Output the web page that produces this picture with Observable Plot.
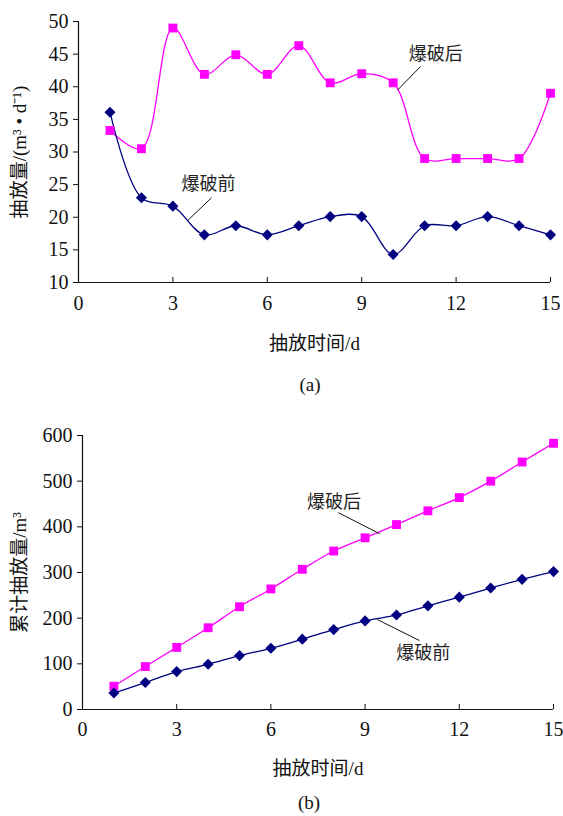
<!DOCTYPE html>
<html>
<head>
<meta charset="utf-8">
<script src="https://cdn.jsdelivr.net/npm/d3@7"></script>
<script src="https://cdn.jsdelivr.net/npm/@observablehq/plot@0.6"></script>
<style>
  body { margin: 0; background: #fff; }
  #wrap { position: relative; width: 563px; height: 816px; font-family: "Liberation Serif", "Noto Sans CJK SC", serif; }
  .panel { position: absolute; left: 0; }
  .cap { position: absolute; width: 100px; text-align: center; font-size: 19px; line-height: 20px; color: #111; }
</style>
</head>
<body>
<div id="wrap">
  <div class="panel" id="panelA" style="top:0"></div>
  <div class="cap" style="top:375px;left:260px">(a)</div>
  <div class="panel" id="panelB" style="top:415px"></div>
  <div class="cap" style="top:793px;left:259px">(b)</div>
</div>
<script>
// Days of extraction
const days = [1, 2, 3, 4, 5, 6, 7, 8, 9, 10, 11, 12, 13, 14, 15];

// Daily extraction rate, m³/d
const rateBefore = [36.1, 23.0, 21.7, 17.3, 18.7, 17.3, 18.7, 20.1, 20.1, 14.3, 18.7, 18.7, 20.1, 18.7, 17.3];
const rateAfter  = [33.3, 30.5, 49.0, 41.9, 44.9, 41.9, 46.3, 40.6, 42.0, 40.6, 29.0, 29.0, 29.0, 29.0, 39.0];

// Cumulative extraction, m³
const cumBefore = [36, 59, 83, 99, 118, 134, 154, 175, 194, 207, 227, 246, 266, 285, 302];
const cumAfter  = [51, 94, 136, 179, 225, 264, 307, 347, 376, 405, 435, 464, 500, 542, 583];

// Series names and axis ticks
const nameBefore = "爆破前";
const nameAfter = "爆破后";
const xTicks = [0, 3, 6, 9, 12, 15];
const rateTicks = [10, 15, 20, 25, 30, 35, 40, 45, 50];
const cumTicks = [0, 100, 200, 300, 400, 500, 600];

const MAGENTA = "#ff00ff";
const NAVY = "#000080";
const CJK = "'Noto Sans CJK SC', 'Liberation Serif', sans-serif";

const rows = (ys) => days.map((d, i) => ({day: d, value: ys[i]}));

function panel({before, after, yDomain, yTicks, yLabel, notes, height, marginTop, marginBottom, marginLeft, marginRight, yLabelOffset, xLabelOffset, xTickPadding}) {
  return Plot.plot({
    width: 563,
    height,
    marginTop, marginBottom, marginLeft, marginRight,
    style: {fontFamily: "'Liberation Serif', 'Noto Sans CJK SC', serif", fontSize: "20px", color: "#111", background: "transparent", overflow: "visible"},
    x: {domain: [0, 15]},
    y: {domain: yDomain},
    marks: [
      Plot.axisY({ticks: yTicks, tickSize: 5, tickPadding: 5, fontSize: 20, label: null}),
      Plot.axisY({ticks: [], tickSize: 0, label: yLabel, labelAnchor: "center", labelArrow: "none", labelOffset: yLabelOffset, fontSize: 19}),
      Plot.axisX({ticks: xTicks, tickSize: -5, tickPadding: xTickPadding, fontSize: 20, label: null}),
      Plot.axisX({ticks: [], tickSize: 0, label: "抽放时间/d", labelAnchor: "center", labelArrow: "none", labelOffset: xLabelOffset, fontSize: 19}),
      Plot.ruleX([0], {stroke: "#111", strokeWidth: 1.2}),
      Plot.ruleY([yDomain[0]], {stroke: "#111", strokeWidth: 1.2}),
      Plot.line(rows(after), {x: "day", y: "value", stroke: MAGENTA, strokeWidth: 1.3, curve: "catmull-rom"}),
      Plot.line(rows(before), {x: "day", y: "value", stroke: NAVY, strokeWidth: 1.3, curve: "catmull-rom"}),
      Plot.dot(rows(after), {x: "day", y: "value", symbol: "square", r: 5, fill: MAGENTA, stroke: null}),
      Plot.dot(rows(before), {x: "day", y: "value", symbol: "diamond2", r: 5, fill: NAVY, stroke: null}),
      Plot.link(notes, {x1: "lx1", y1: "ly1", x2: "lx2", y2: "ly2", stroke: "#111", strokeWidth: 1}),
      Plot.text(notes, {x: "tx", y: "ty", text: "name", fontSize: 18, fontFamily: CJK, fill: "#222"})
    ]
  });
}

document.getElementById("panelA").append(panel({
  before: rateBefore,
  after: rateAfter,
  yDomain: [10, 50],
  yTicks: rateTicks,
  yLabel: "抽放量/(m³ • d⁻¹)",
  notes: [
    {name: nameAfter, tx: 11.35, ty: 45.0, lx1: 10.87, ly1: 43.1, lx2: 10.14, ly2: 39.5},
    {name: nameBefore, tx: 4.13, ty: 25.1, lx1: 4.23, ly1: 23.0, lx2: 3.47, ly2: 19.5}
  ],
  height: 355, marginTop: 21, marginBottom: 73, marginLeft: 78, marginRight: 13,
  yLabelOffset: 66, xLabelOffset: 67, xTickPadding: 18
}));

document.getElementById("panelB").append(panel({
  before: cumBefore,
  after: cumAfter,
  yDomain: [0, 600],
  yTicks: cumTicks,
  yLabel: "累计抽放量/m³",
  notes: [
    {name: nameAfter, tx: 8.01, ty: 453, lx1: 8.15, ly1: 431, lx2: 9.46, ly2: 385},
    {name: nameBefore, tx: 10.85, ty: 123, lx1: 9.39, ly1: 197, lx2: 10.73, ly2: 151}
  ],
  height: 362, marginTop: 20, marginBottom: 68, marginLeft: 82, marginRight: 10,
  yLabelOffset: 70, xLabelOffset: 65, xTickPadding: 17
}));
</script>
</body>
</html>
